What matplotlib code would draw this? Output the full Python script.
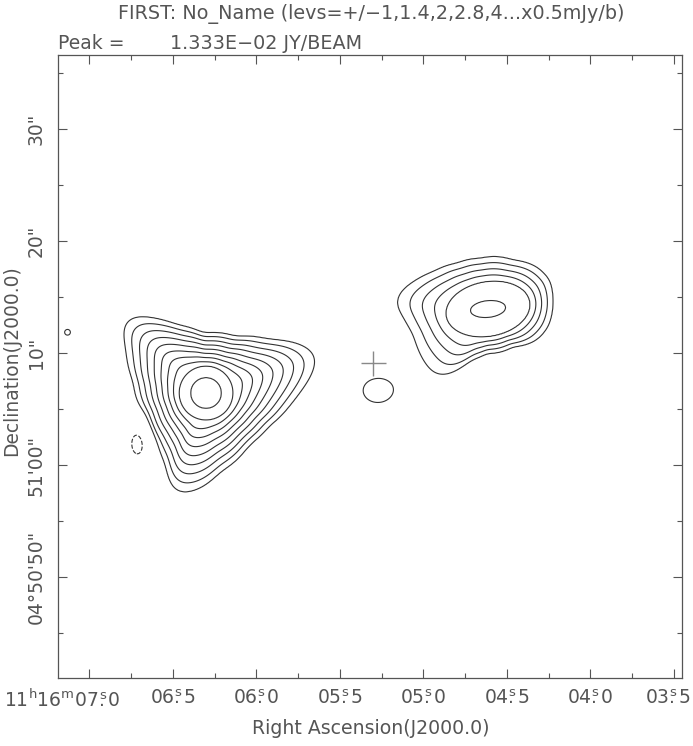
import numpy as np
import matplotlib
matplotlib.use("Agg")
import matplotlib.pyplot as plt
from matplotlib.ticker import FixedLocator, MultipleLocator
import matplotlib.transforms as mtransforms

plt.rcParams['mathtext.default'] = 'regular'
plt.rcParams['font.family'] = ['DejaVu Sans']

TEXT_COL = '#555555'
LINE_COL = '#333333'

# map window: RA seconds past 11h16m, Dec arcsec offset from +04d51'00"
ra_lim = [7.186, 3.451]
dec_lim = [-18.99, 36.68]

# contour levels (mJy/b)
base_level = 0.5
level_mult = [1, 1.4142, 2, 2.8284, 4, 5.6569, 8, 11.314, 16, 22.627]

# main (left) source: centre, peak, round inner rings and traced outer contour
left_ra, left_dec, left_peak = 6.3012, 6.455, 13.33
left_ring_levels = [11.31, 8.0, 0.5]
left_core_r = [1.38, 2.41]                       # arcsec
left_out_ang = [0.8, 11.4, 18.9, 26.3, 39.6, 61.4, 92.6, 113.3, 125.2, 133.6, 140.0, 150.6,
                171.2, 199.3, 226.5, 241.4, 248.6, 255.5, 266.4, 280.0, 306.3, 315.0, 333.4, 351.9]
left_out_r = [8.39, 9.7, 10.5, 9.7, 7.42, 5.72, 5.34, 6.61, 8.2, 9.5, 9.55, 8.13,
              6.57, 5.93, 6.40, 7.32, 8.9, 9.3, 8.55, 7.14, 6.13, 6.07, 6.39, 7.58]

# second (right) source: elliptical inner rings and traced outer contour
right_ra, right_dec, right_peak = 4.6126, 13.955, 3.1
right_ring_levels = [2.83, 2.0, 0.5]
right_ell_a = [1.58, 3.8]
right_ell_b = [0.75, 2.45]
right_ell_pa = [6, 10]
right_out_ang = [7.8, 25.1, 41.0, 62.7, 99.0, 124.4, 145.7, 159.9, 168.9, 176.5, 185.2, 198.0,
                 216.4, 231.4, 237.9, 244.7, 250.6, 268.3, 303.9, 327.5, 343.6]
right_out_r = [5.88, 6.11, 5.76, 4.92, 4.58, 4.95, 5.91, 7.10, 8.01, 8.32, 7.59, 7.02,
               7.18, 7.35, 6.96, 5.86, 4.83, 3.96, 4.05, 5.15, 5.61]

# faint compact features: RA (s), Dec ("), peak (mJy/b), sig_x ("), sig_y (")
blob_ra = [5.2772, 7.1317, 6.7084]
blob_dec = [6.65, 11.875, 1.99]
blob_amp = [0.56, 0.502, -0.68]
blob_sx = [2.44, 2.3, 0.8]
blob_sy = [2.02, 2.3, 1.4]

cross_ra = [5.3012]
cross_dec = [9.13]

ra_ticks = [7.0, 6.5, 6.0, 5.5, 5.0, 4.5, 4.0, 3.5]
ra_labels = [r'$11^{h}16^{m}07\overset{s}{.}0$', r'$06\overset{s}{.}5$', r'$06\overset{s}{.}0$',
             r'$05\overset{s}{.}5$', r'$05\overset{s}{.}0$', r'$04\overset{s}{.}5$',
             r'$04\overset{s}{.}0$', r'$03\overset{s}{.}5$']
dec_ticks = [-10, 0, 10, 20, 30]
dec_labels = ['04\u00b050\'50"', '51\'00"', '10"', '20"', '30"']

cosd = np.cos(np.radians(4.85))


def offsets(RA, DEC, ra0, dec0):
    dx = -(RA - ra0) * 15 * cosd
    dy = DEC - dec0
    return dx, dy


def smooth_ring(ang, rad, width=10):
    fine = np.arange(360.0)
    rf = np.interp(fine, ang, rad, period=360)
    k = np.exp(-0.5 * (np.arange(-3 * width, 3 * width + 1) / (width / 2.355)) ** 2)
    k /= k.sum()
    pad = len(k) // 2
    rs = np.convolve(np.concatenate([rf[-pad:], rf, rf[:pad]]), k, mode='valid')
    return fine, rs


def source_field(RA, DEC, ra0, dec0, peak, levels, rings):
    dx, dy = offsets(RA, DEC, ra0, dec0)
    r = np.hypot(dx, dy)
    th = np.degrees(np.arctan2(dy, dx)) % 360
    Rs = [np.zeros_like(r)]
    for ring in rings:
        if ring[0] == 'ell':
            a, b, pa = ring[1:]
            t = np.radians(th - pa)
            Rs.append(1 / np.sqrt((np.cos(t) / a) ** 2 + (np.sin(t) / b) ** 2))
        else:
            fa, fr = smooth_ring(ring[1], ring[2])
            Rs.append(np.interp(th, fa, fr, period=360))
    Gs = [0.0] + [np.log(peak / lv) for lv in levels]
    G = np.zeros_like(r)
    for k in range(len(Rs) - 1):
        m = (r >= Rs[k]) & (r < Rs[k + 1])
        g = Gs[k] + (r - Rs[k]) / (Rs[k + 1] - Rs[k]) * (Gs[k + 1] - Gs[k])
        G[m] = g[m]
    m = r >= Rs[-1]
    slope = 2 * (Gs[-1] - Gs[-2]) / (Rs[-1] - Rs[-2])
    g = Gs[-1] + (r - Rs[-1]) * slope
    G[m] = g[m]
    return peak * np.exp(-G)


ra = np.linspace(7.3, 3.35, 800)
dec = np.linspace(-21, 39, 800)
RA, DEC = np.meshgrid(ra, dec)

left_rings = [('ell', left_core_r[0], left_core_r[0], 0), ('ell', left_core_r[1], left_core_r[1], 0),
              ('tab', left_out_ang, left_out_r)]
right_rings = [('ell', right_ell_a[0], right_ell_b[0], right_ell_pa[0]),
               ('ell', right_ell_a[1], right_ell_b[1], right_ell_pa[1]),
               ('tab', right_out_ang, right_out_r)]

Z = source_field(RA, DEC, left_ra, left_dec, left_peak, left_ring_levels, left_rings)
Z += source_field(RA, DEC, right_ra, right_dec, right_peak, right_ring_levels, right_rings)
for r0, d0, a, sx, sy in zip(blob_ra, blob_dec, blob_amp, blob_sx, blob_sy):
    dx, dy = offsets(RA, DEC, r0, d0)
    Z += a * np.exp(-0.5 * ((dx / sx) ** 2 + (dy / sy) ** 2))

fig = plt.figure(figsize=(6.93, 7.46), dpi=100)
ax = fig.add_axes([0.0841, 0.0912, 0.9, 0.8357])

pos_levels = [base_level * m for m in level_mult]
neg_levels = [-base_level * m for m in level_mult[::-1]]
ax.contour(RA, DEC, Z, levels=pos_levels, colors=LINE_COL, linewidths=0.8, linestyles='solid')
ax.contour(RA, DEC, Z, levels=neg_levels, colors=LINE_COL, linewidths=0.8, linestyles='dashed')
ax.plot(cross_ra, cross_dec, marker='+', ms=18, mew=1.0, color='#888888', ls='none')

ax.set_xlim(ra_lim)
ax.set_ylim(dec_lim)

ax.xaxis.set_major_locator(FixedLocator(ra_ticks))
ax.xaxis.set_minor_locator(MultipleLocator(0.25))
ax.yaxis.set_major_locator(FixedLocator(dec_ticks))
ax.yaxis.set_minor_locator(MultipleLocator(5))
ax.set_xticklabels(ra_labels)
ax.set_yticklabels(dec_labels, rotation=90, va='center')

ax.tick_params(which='both', direction='in', top=True, right=True, color=TEXT_COL,
               width=0.8, labelcolor=TEXT_COL, labelsize=13.5)
ax.tick_params(which='major', length=6.5)
ax.tick_params(which='minor', length=3.4)
ax.tick_params(axis='x', pad=8)
ax.tick_params(axis='y', pad=9)
for sp in ax.spines.values():
    sp.set_color(TEXT_COL)
    sp.set_linewidth(0.9)

xl = ax.get_xticklabels()
xl[0].set_horizontalalignment('right')
xl[0].set_transform(xl[0].get_transform() + mtransforms.ScaledTranslation(31 / 100, 0, fig.dpi_scale_trans))
xl[-1].set_horizontalalignment('right')
xl[-1].set_transform(xl[-1].get_transform() + mtransforms.ScaledTranslation(17 / 100, 0, fig.dpi_scale_trans))

fig.text(371 / 693, 1 - 14 / 746, "FIRST: No_Name (levs=+/\u22121,1.4,2,2.8,4...x0.5mJy/b)",
         ha='center', va='center', fontsize=13.8, color=TEXT_COL)
fig.text(58 / 693, 1 - 49 / 746, "Peak =", ha='left', va='baseline', fontsize=13.5, color=TEXT_COL)
fig.text(170 / 693, 1 - 49 / 746, "1.333E\u221202 JY/BEAM", ha='left', va='baseline',
         fontsize=13.8, color=TEXT_COL)
fig.text(371 / 693, 1 - 728 / 746, "Right Ascension(J2000.0)",
         ha='center', va='center', fontsize=13.6, color=TEXT_COL)
fig.text(12 / 693, 1 - 361 / 746, "Declination(J2000.0)", rotation=90,
         ha='center', va='center', fontsize=13.4, color=TEXT_COL)

fig.savefig("out.png", dpi=100)
